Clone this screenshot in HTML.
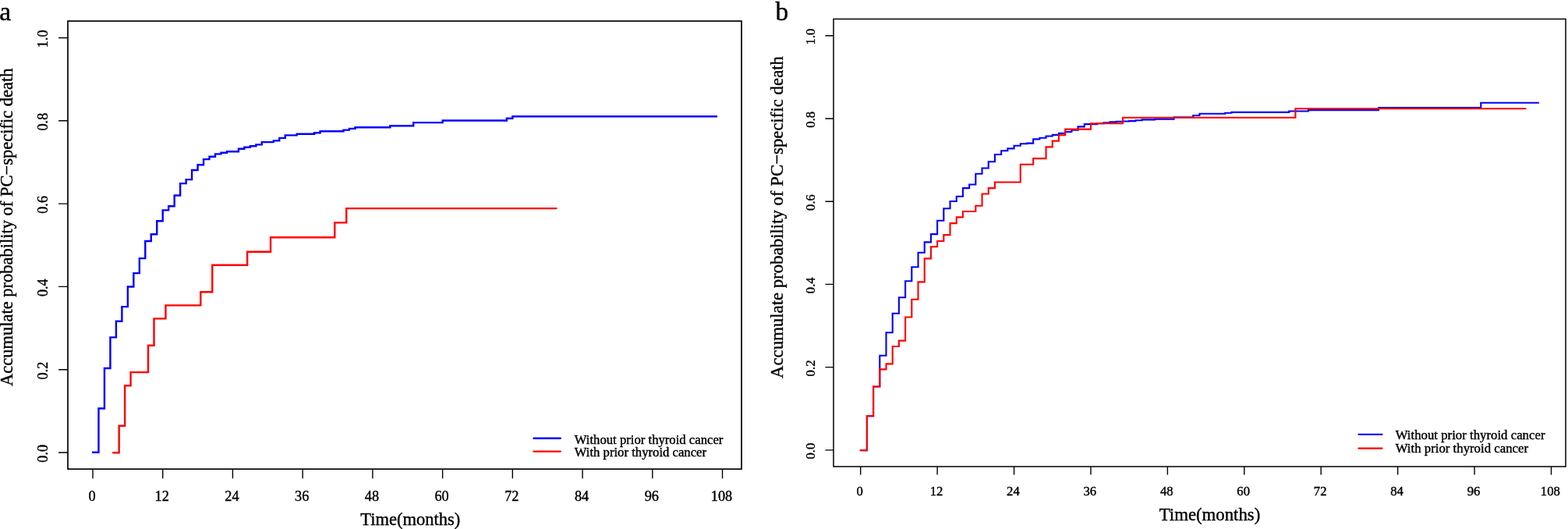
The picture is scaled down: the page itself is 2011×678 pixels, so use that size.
<!DOCTYPE html>
<html><head><meta charset="utf-8"><title>Figure</title>
<style>html,body{margin:0;padding:0;background:#fff;width:2011px;height:678px;overflow:hidden}svg{display:block}</style>
</head><body>
<svg width="2011" height="678" viewBox="0 0 2011 678" font-family='"Liberation Serif", "Times New Roman", serif' fill="#000">
<style>text{stroke:#000;stroke-width:0.4px}</style>
<rect width="2011" height="678" fill="#fff"/>
<rect x="87" y="27" width="864" height="574.2" fill="none" stroke="#000" stroke-width="1.7"/>
<path d="M119 601.2V613.2M208.72 601.2V613.2M298.45 601.2V613.2M388.17 601.2V613.2M477.9 601.2V613.2M567.62 601.2V613.2M657.34 601.2V613.2M747.07 601.2V613.2M836.79 601.2V613.2M926.52 601.2V613.2M87 580H75M87 473.7H75M87 367.4H75M87 261.1H75M87 154.8H75M87 48.5H75" stroke="#000" stroke-width="1.4" fill="none"/>
<g font-size="18.3" text-anchor="middle">
<text x="118" y="641.7">0</text>
<text x="207.72" y="641.7">12</text>
<text x="297.45" y="641.7">24</text>
<text x="387.17" y="641.7">36</text>
<text x="476.9" y="641.7">48</text>
<text x="566.62" y="641.7">60</text>
<text x="656.34" y="641.7">72</text>
<text x="746.07" y="641.7">84</text>
<text x="835.79" y="641.7">96</text>
<text x="925.52" y="641.7">108</text>
<text transform="translate(61.1 581.3) rotate(-90)">0.0</text>
<text transform="translate(61.1 475) rotate(-90)">0.2</text>
<text transform="translate(61.1 368.7) rotate(-90)">0.4</text>
<text transform="translate(61.1 262.4) rotate(-90)">0.6</text>
<text transform="translate(61.1 156.1) rotate(-90)">0.8</text>
<text transform="translate(61.1 49.8) rotate(-90)">1.0</text>
</g>
<text x="526.3" y="672.8" font-size="22.5" text-anchor="middle">Time(months)</text>
<text transform="translate(15.9 291.3) rotate(-90)" font-size="22.5" text-anchor="middle">Accumulate probability of PC−specific death</text>
<path d="M119 579.7H126.48V523.5H133.95V472H141.43V432.4H148.91V411.8H156.38V393.1H163.86V367.5H171.34V350.1H178.82V331.1H186.29V309H193.77V300.2H201.25V283.3H208.72V269.4H216.2V264.2H223.68V250.5H231.16V235.1H238.63V230.1H246.11V218H253.59V211.2H261.06V204.1H268.54V200.7H276.02V197.4H283.49V195.8H290.97V194.2H305.93V190.7H313.4V188.7H320.88V187.2H328.36V185.4H335.83V182.1H350.79V180.4H358.26V176.9H365.74V173.4H380.69V171.8H403.13V170.3H410.6V168.3H440.51V166.6H447.99V164.9H455.47V163.3H500.33V161.3H530.24V157.1H567.62V154.5H649.87V151.8H657.34V149.2H919.04" stroke="#0000ff" stroke-width="2.4" fill="none" stroke-linecap="round"/>
<path d="M145.17 580.2H152.65V545.8H160.12V494.2H167.6V477.1H190.03V442.7H197.51V408.4H212.46V391.4H257.32V374.2H272.28V339.8H317.14V322.8H347.05V304.2H429.3V285.4H444.25V267.1H713.42" stroke="#ff0000" stroke-width="2.4" fill="none" stroke-linecap="round"/>
<path d="M684.6 561.8H718.7" stroke="#0000ff" stroke-width="2.4" stroke-linecap="round"/>
<path d="M684.6 578.6H718.7" stroke="#ff0000" stroke-width="2.4" stroke-linecap="round"/>
<g font-size="16.7"><text x="736.7" y="568.5">Without prior thyroid cancer</text><text x="736.7" y="585.3">With prior thyroid cancer</text></g>
<text x="-0.8" y="25.6" font-size="33.5">a</text>
<rect x="1069" y="24.4" width="939" height="573.6" fill="none" stroke="#000" stroke-width="1.5"/>
<path d="M1103.7 598V608.6M1202.12 598V608.6M1300.54 598V608.6M1398.96 598V608.6M1497.39 598V608.6M1595.81 598V608.6M1694.23 598V608.6M1792.65 598V608.6M1891.07 598V608.6M1989.49 598V608.6M1069 576.9H1058.4M1069 470.66H1058.4M1069 364.42H1058.4M1069 258.18H1058.4M1069 151.94H1058.4M1069 45.7H1058.4" stroke="#000" stroke-width="1.4" fill="none"/>
<g font-size="16.7" text-anchor="middle">
<text x="1102.6" y="635">0</text>
<text x="1201.02" y="635">12</text>
<text x="1299.44" y="635">24</text>
<text x="1397.86" y="635">36</text>
<text x="1496.29" y="635">48</text>
<text x="1594.71" y="635">60</text>
<text x="1693.13" y="635">72</text>
<text x="1791.55" y="635">84</text>
<text x="1889.97" y="635">96</text>
<text x="1988.39" y="635">108</text>
<text transform="translate(1045 578.2) rotate(-90)">0.0</text>
<text transform="translate(1045 471.96) rotate(-90)">0.2</text>
<text transform="translate(1045 365.72) rotate(-90)">0.4</text>
<text transform="translate(1045 259.48) rotate(-90)">0.6</text>
<text transform="translate(1045 153.24) rotate(-90)">0.8</text>
<text transform="translate(1045 47) rotate(-90)">1.0</text>
</g>
<text x="1551.5" y="666.5" font-size="22.8" text-anchor="middle">Time(months)</text>
<text transform="translate(1004.3 278.5) rotate(-90)" font-size="22.8" text-anchor="middle">Accumulate probability of PC−specific death</text>
<path d="M1103.7 577.1H1111.9V533.1H1120.1V495.5H1128.31V455.8H1136.51V426.3H1144.71V401.8H1152.91V381.3H1161.11V360.2H1169.31V342.2H1177.52V323.7H1185.72V310.4H1193.92V300.1H1202.12V282.7H1210.32V267.2H1218.53V258H1226.73V251.7H1234.93V241.1H1243.13V236.5H1251.33V222.7H1259.53V215.5H1267.74V207.2H1275.94V198H1284.14V193.3H1292.34V190.4H1300.54V186.7H1308.75V184.3H1316.95V183.6H1325.15V178.4H1333.35V176.7H1341.55V174.5H1349.75V172.9H1357.96V170.9H1366.16V169H1374.36V166.8H1382.56V162.4H1390.76V159.1H1407.17V158.3H1415.37V157.4H1423.57V156.4H1431.77V155.8H1439.97V155.5H1448.18V155.1H1456.38V154.3H1464.58V153.4H1480.98V152.7H1505.59V150.2H1530.19V148H1538.4V145.8H1571.2V144.8H1579.4V143.9H1653.22V142.5H1677.83V141.1H1768.05V138H1899.27V131.8H1973.09" stroke="#0000ff" stroke-width="2.1" fill="none" stroke-linecap="round"/>
<path d="M1103.7 577.1H1111.9V533.1H1120.1V495.5H1128.31V473.4H1136.51V466.4H1144.71V444H1152.91V436.6H1161.11V406.5H1169.31V383.8H1177.52V361.4H1185.72V331.4H1193.92V316.3H1202.12V309H1210.32V301.1H1218.53V286.1H1226.73V278.4H1234.93V271H1251.33V263.7H1259.53V248.5H1267.74V241.1H1275.94V233.5H1308.75V210.7H1325.15V203.1H1341.55V188.4H1349.75V180.6H1357.96V173.2H1366.16V165.6H1398.96V158.2H1439.97V150.7H1661.42V139.2H1956.69" stroke="#ff0000" stroke-width="2.1" fill="none" stroke-linecap="round"/>
<path d="M1742.4 556.8H1772.6" stroke="#0000ff" stroke-width="2.1" stroke-linecap="round"/>
<path d="M1742.4 574.6H1772.6" stroke="#ff0000" stroke-width="2.1" stroke-linecap="round"/>
<g font-size="16.8"><text x="1789.7" y="562.6">Without prior thyroid cancer</text><text x="1789.7" y="580.3">With prior thyroid cancer</text></g>
<text x="994.6" y="25.6" font-size="33.5">b</text>
</svg>
</body></html>
